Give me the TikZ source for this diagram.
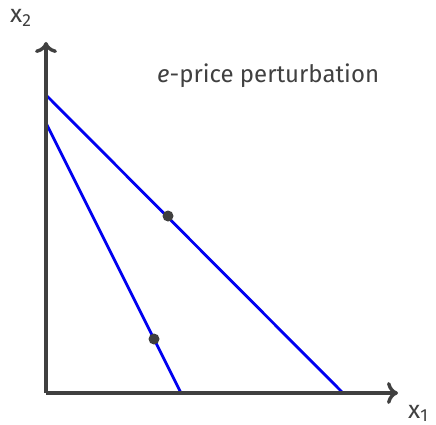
\documentclass[tikz,border=0pt]{standalone}
\usepackage{fontspec}
\setmainfont{Fira Sans}
\usetikzlibrary{arrows.meta}
\definecolor{axisgray}{HTML}{404040}
\definecolor{lineblue}{HTML}{0000F0}
\tikzset{
  axis/.style={draw=axisgray, line width=3.4pt, -{Computer Modern Rightarrow[length=11pt,width=22pt,line width=3.4pt]}},
  budget/.style={draw=lineblue, line width=2.8pt},
  pt/.style={circle, fill=axisgray, inner sep=0pt, minimum size=11pt},
  lbl/.style={text=axisgray, font=\fontsize{24}{28}\selectfont, inner sep=0pt},
  axlbl/.style={text=axisgray, font=\fontsize{25}{28}\selectfont, inner sep=0pt}
}
\begin{document}
\begin{tikzpicture}[x=1pt,y=-1pt]
\useasboundingbox (0,0) rectangle (436,425);
\coordinate (O) at (46,393);
\coordinate (Ytop) at (46,42);
\coordinate (Xend) at (398,393);
\coordinate (A1) at (46,95);
\coordinate (B1) at (343,393);
\coordinate (A2) at (46,123);
\coordinate (B2) at (181,393);
\draw[budget] (A1) -- (B1);
\draw[budget] (A2) -- (B2);
\draw[axis] (O) -- (Ytop);
\draw[axis] (O) -- (Xend);
\node[pt] (P1) at (168,216) {};
\node[pt] (P2) at (154,339) {};
\node[lbl, anchor=base west] (T) at (157,83) {\textit{e}-price perturbation};
\node[axlbl, anchor=base west] (X2) at (10,23) {x\textsubscript{2}};
\node[axlbl, anchor=base west] (X1) at (408,418) {x\textsubscript{1}};
\end{tikzpicture}
\end{document}
